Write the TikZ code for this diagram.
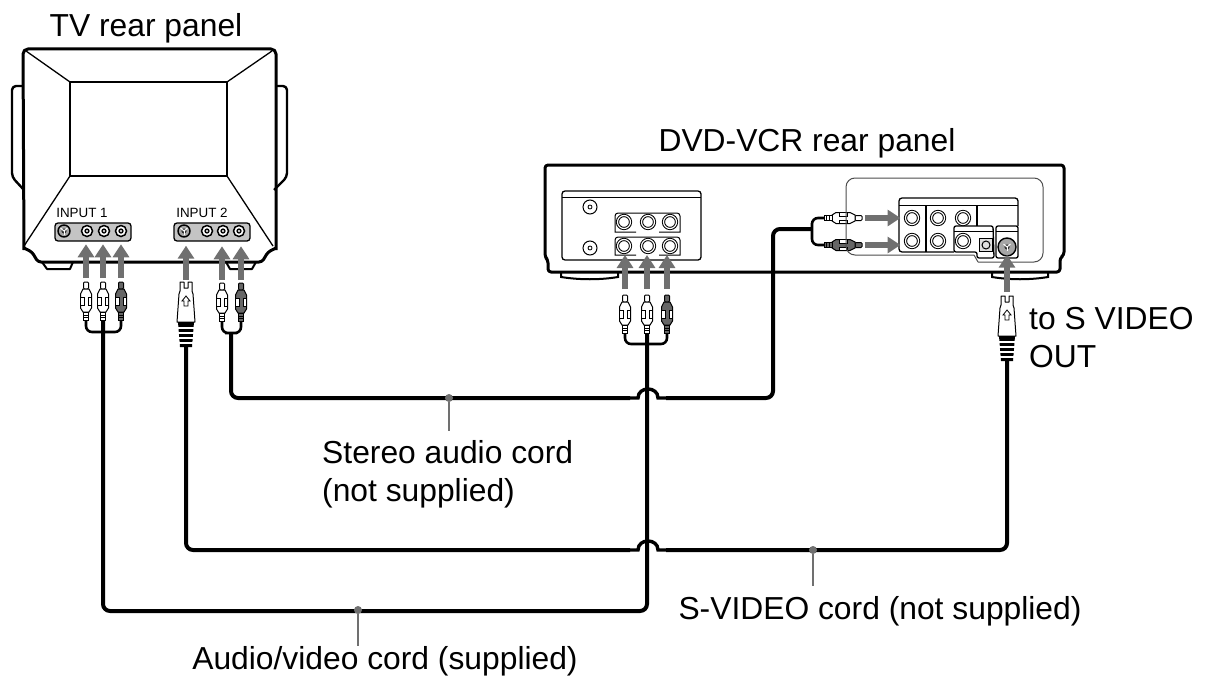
\documentclass[tikz,border=0pt]{standalone}
\usepackage{fontspec}
\setmainfont{Liberation Sans}
\usetikzlibrary{arrows.meta}
\definecolor{arrowgray}{HTML}{707070}
\definecolor{panelgray}{HTML}{C4C4C4}
\tikzset{
  caption/.style = {inner sep=0pt, align=left, font=\fontsize{31.8}{38}\selectfont},
  tinylabel/.style = {inner sep=0pt, font=\fontsize{13.4}{15}\selectfont},
  hull/.style = {line width=3pt, line join=round},
  trim/.style = {line width=1.3pt},
  fine/.style = {line width=1pt},
  cord/.style = {line width=4pt, rounded corners=7pt},
  forkcord/.style = {line width=2.6pt, rounded corners=6pt},
  feed/.style = {arrowgray, line width=6pt, -{Triangle[width=16pt,length=13pt]}},
  leader/.style = {arrowgray, line width=2pt},
  cordot/.style = {circle, fill=arrowgray, inner sep=0pt, minimum size=8pt},
  tvjack/.style = {circle, draw, fill=white, line width=1.5pt, inner sep=0pt, minimum size=11pt,
    path picture={\draw[line width=1.2pt, fill=panelgray] (path picture bounding box.center) circle (2pt);}},
  sjack/.style = {circle, draw, fill=black!35, line width=1.4pt, inner sep=0pt,
    path picture={\fill[black!80] (path picture bounding box.center) circle (2.6pt);
      \draw[white, line width=1pt] (path picture bounding box.center) ++(-3.5pt,3pt) -- ++(3.5pt,-3pt) -- ++(3.5pt,3pt);
      \draw[white, line width=1pt] (path picture bounding box.center) -- ++(0pt,-4pt);}},
  tvsjack/.style = {sjack, minimum size=12pt},
  dvdsjack/.style = {sjack, minimum size=18pt},
  dvdjack/.style = {circle, draw, double=white, double distance=1.2pt, fill=white, line width=1pt, inner sep=0pt, minimum size=13pt},
  antenna/.style = {circle, draw, fill=white, line width=1pt, inner sep=0pt, minimum size=14pt,
    path picture={\draw[line width=.8pt] (path picture bounding box.center) circle (2pt);}},
  pics/rcaplug/.style = {code = {
    \coordinate (-top) at (0,0);
    \coordinate (-tail) at (0,38);
    \draw[fine, fill=#1, rounded corners=1pt] (-2.5,0) rectangle (2.5,7);
    \draw[fine, fill=#1] (-3,7) -- (3,7) -- (5.5,12) -- (5.5,26) -- (3,30) -- (-3,30) -- (-5.5,26) -- (-5.5,12) -- cycle;
    \draw[fine, fill=white] (-5.5,15) rectangle (-2,23);
    \draw[fine, fill=white] (2,15) rectangle (5.5,23);
    \draw[fine, fill=#1] (-2.8,30) rectangle (2.8,38);
    \draw[fine] (-2.8,33) -- (2.8,33);
    \draw[fine] (-2.8,35.5) -- (2.8,35.5);
  }},
  pics/svideoplug/.style = {code = {
    \coordinate (-top) at (0,0);
    \coordinate (-tail) at (0,65);
    \draw[fine, fill=white, line join=round] (-6,0) -- (-2,0) -- (-2,6) -- (2,6) -- (2,0) -- (6,0) -- (6,9) -- (7,12) -- (9,40) -- (-9,40) -- (-7,12) -- (-6,9) -- cycle;
    \draw[line width=.8pt] (0,14) -- (4,19) -- (2,19) -- (2,24) -- (-2,24) -- (-2,19) -- (-4,19) -- cycle;
    \fill (-8,40) -- (8,40) -- (6,65) -- (-6,65) -- cycle;
    \foreach \s in {46,51,56,61} \draw[white, line width=2.2pt] (-8,\s) -- (8,\s);
  }}
}

\begin{document}
\begin{tikzpicture}[x=1pt, y=-1pt]
\useasboundingbox (0,0) rectangle (1209,677);

% TV cabinet
\draw[hull, rounded corners=5pt] (24,250) -- (23,49) -- (276,49) -- (276,250);
\draw[hull, rounded corners=3pt] (24,248) -- (32,252) -- (38,262) -- (262,262) -- (268,252) -- (276,248);
\draw[hull, line width=2.4pt] (23,86) [rounded corners=4pt] -- (12,86) -- (12,177) [sharp corners] -- (24,190);
\draw[hull, line width=2.4pt] (276,86) [rounded corners=4pt] -- (287,86) -- (287,177) [sharp corners] -- (274,190);
\draw[hull, line width=2pt] (42,262) -- (47,269) -- (70,269) -- (73,262);
\draw[hull, line width=2pt] (226,262) -- (230,269) -- (252,269) -- (256,262);
\draw[trim, line width=2pt] (70,82) rectangle (227,176);
\draw[trim] (26,51) -- (70,82);
\draw[trim] (272,51) -- (227,82);
\draw[trim] (70,176) -- (24,246);
\draw[trim] (227,176) -- (273,246);

% TV input panels
\node[tinylabel] (inputa) at (82,213) {INPUT 1};
\node[tinylabel] (inputb) at (202,213) {INPUT 2};
\draw[trim, fill=panelgray, rounded corners=3pt] (55,223) rectangle (131,241);
\draw[trim, fill=panelgray, rounded corners=3pt] (174,223) rectangle (250,241);
\node[tvsjack] (tvsa) at (64,231) {};
\node[tvsjack] (tvsb) at (184,231) {};
\foreach \n/\x in {ja/87, jb/104, jc/121, jd/207, je/223, jf/239}
  \node[tvjack] (\n) at (\x,231) {};

% DVD-VCR cabinet
\draw[hull, rounded corners=3pt] (548,260) -- (545,257) -- (545,165) -- (1064,165) -- (1064,255) -- (1060,258) -- (1060,272) -- (548,272) -- cycle;
\draw[trim, line width=2pt] (561,273) -- (561,277) .. controls (580,280) and (600,280) .. (618,277) -- (618,273);
\draw[trim, line width=2pt] (992,273) -- (992,277) .. controls (1010,280) and (1030,280) .. (1048,277) -- (1048,273);
\draw[trim, rounded corners=3pt] (562,260) -- (562,191) -- (701,191) -- (701,260) -- cycle;
\draw[fine] (562,197) -- (701,197);
\node[antenna] (anta) at (590,207) {};
\node[antenna] (antb) at (590,248) {};
\draw[fine] (636,232) -- (615,232) [rounded corners=3pt] -- (615,213) -- (680,213) [sharp corners] -- (680,232) -- (659,232);
\draw[fine] (636,255) -- (615,255) [rounded corners=3pt] -- (615,237) -- (680,237) [sharp corners] -- (680,255) -- (659,255);
\foreach \n/\x/\y in {ka/624/222, kb/648/222, kc/670/222, kd/624/246, ke/648/246, kf/670/246}
  \node[dvdjack] (\n) at (\x,\y) {};

% plugs under the terminal block outline
\pic[rotate=-90] (pi) at (862,218) {rcaplug=white};
\pic[rotate=-90] (pj) at (862,245) {rcaplug=black!60};

% right hand terminal block
\draw[fine, black!70, rounded corners=9pt] (974,255) -- (846,255) -- (846,178) -- (1043,178) -- (1043,262) -- (978,262);
\draw[fine, black!70] (974,255) -- (978,262);
\draw[trim, rounded corners=3pt] (954,252) -- (899,252) -- (899,198) -- (1018,198) -- (1018,226);
\draw[fine] (899,205) -- (1018,205);
\draw[trim] (926,205) -- (926,252);
\draw[trim] (977,205) -- (977,226);
\draw[trim, rounded corners=2pt] (954,252) -- (954,226) -- (993,226) -- (994,258) -- (977,258) -- (977,252) -- cycle;
\draw[trim, rounded corners=2pt] (996,258) -- (996,226) -- (1018,226) -- (1018,258) -- cycle;
\draw[fine] (954,231) -- (993,231);
\draw[fine] (996,231) -- (1018,231);
\foreach \n/\x/\y in {ma/912/218, mb/938/218, mc/963/218, md/912/241, me/938/241, mf/963/241}
  \node[dvdjack] (\n) at (\x,\y) {};
\node[draw, fine, fill=panelgray!50, minimum size=13pt, inner sep=0pt] (msq) at (986,245) {};
\node[circle, draw, fine, minimum size=8pt, inner sep=0pt] (msqin) at (msq) {};
\node[dvdsjack] (msv) at (1007,247) {};

% plugs
\pic (pa) at (86,282) {rcaplug=white};
\pic (pb) at (103,282) {rcaplug=white};
\pic (pc) at (121,282) {rcaplug=black!60};
\pic (sa) at (186,282) {svideoplug};
\pic (pd) at (222,283) {rcaplug=white};
\pic (pe) at (241,283) {rcaplug=black!60};
\pic (pf) at (625,295) {rcaplug=white};
\pic (pg) at (647,295) {rcaplug=white};
\pic (ph) at (667,295) {rcaplug=black!60};
\pic (sb) at (1007,296) {svideoplug};

% feed arrows
\draw[feed, shorten <=4pt, shorten >=7pt] (pa-top) -- (pa-top |- ja.south);
\draw[feed, shorten <=4pt, shorten >=7pt] (pb-top) -- (pb-top |- jb.south);
\draw[feed, shorten <=4pt, shorten >=7pt] (pc-top) -- (pc-top |- jc.south);
\draw[feed, shorten <=2pt, shorten >=8pt] (sa-top) -- (sa-top |- tvsb.south);
\draw[feed, shorten <=3pt, shorten >=9pt] (pd-top) -- (pd-top |- je.south);
\draw[feed, shorten <=3pt, shorten >=9pt] (pe-top) -- (pe-top |- jf.south);
\draw[feed, shorten <=6pt, shorten >=2pt] (pf-top) -- (pf-top |- kd.south);
\draw[feed, shorten <=6pt, shorten >=2pt] (pg-top) -- (pg-top |- ke.south);
\draw[feed, shorten <=6pt, shorten >=2pt] (ph-top) -- (ph-top |- kf.south);
\draw[feed, shorten <=3pt, shorten >=4.5pt] (pi-top) -- (pi-top -| ma.west);
\draw[feed, shorten <=3pt, shorten >=4.5pt] (pj-top) -- (pj-top -| md.west);
\draw[feed, shorten <=4pt, shorten >=-2pt] (sb-top) -- (sb-top |- msv.south);

% cords
\coordinate (tvfork) at (103,332);
\coordinate (dvdfork) at (647,344);
\coordinate (tvaudio) at (231,333);
\coordinate (dvdaudio) at (812,229);
\coordinate (avmid) at (358,611);
\coordinate (audiomid) at (449,398);
\coordinate (svmid) at (813,550);
\draw[forkcord] (pa-tail) |- (tvfork) -| (pc-tail);
\draw[forkcord] (pf-tail) |- (dvdfork) -| (ph-tail);
\draw[forkcord] (pd-tail) |- (tvaudio) -| (pe-tail);
\draw[forkcord] (pi-tail) -| (dvdaudio) |- (pj-tail);
\draw[cord] (pb-tail) |- (avmid) -| (pg-tail);
\draw[cord] (tvaudio) |- (audiomid) -- (630,398);
\draw[cord] (666,398) -- (773,398) |- (dvdaudio);
\draw[cord, sharp corners, line width=3.4pt] (630,398) -- (638,398) .. controls (638,386) and (658,386) .. (658,398) -- (666,398);
\draw[cord] (sa-tail) |- (630,550);
\draw[cord] (666,550) -- (svmid) -| (sb-tail);
\draw[cord, sharp corners, line width=3.4pt] (630,550) -- (638,550) .. controls (638,538) and (658,538) .. (658,550) -- (666,550);

% captions
\node[caption] (lbltv) at (146,28) {TV rear panel};
\node[caption] (lbldvd) at (807,143) {DVD-VCR rear panel};
\node[caption, anchor=west] (lblout) at (1029,338) {to S VIDEO\\OUT};
\node[caption, anchor=west] (lblaudio) at (322,474) {Stereo audio cord\\(not supplied)};
\node[caption] (lblsv) at (880,611) {S-VIDEO cord (not supplied)};
\node[caption] (lblav) at (385,661) {Audio/video cord (supplied)};

% leaders
\node[cordot] (dotav) at (358,610) {};
\node[cordot] (dotaudio) at (audiomid) {};
\node[cordot] (dotsv) at (svmid) {};
\draw[leader] (dotav) -- (dotav |- lblav.north);
\draw[leader, shorten >=9pt] (dotaudio) -- (dotaudio |- lblaudio.north);
\draw[leader, shorten >=10pt] (dotsv) -- (dotsv |- lblsv.north);
\end{tikzpicture}
\end{document}
